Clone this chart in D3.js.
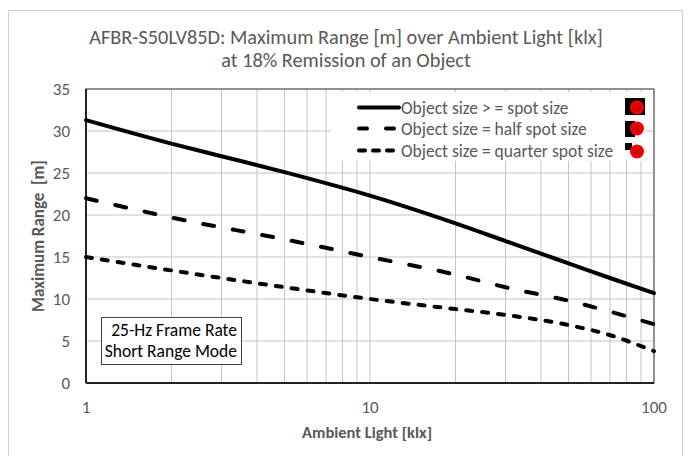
<!DOCTYPE html>
<html>
<head>
<meta charset="utf-8">
<script src="https://cdn.jsdelivr.net/npm/d3@7"></script>
<style>
  body { margin: 0; background: #fff; }
  text { font-family: Carlito, Lato, "Open Sans", sans-serif; }
</style>
</head>
<body>
<div id="chart"></div>
<script>
// ambient light [klx] and max range [m] per object size
var fullX = [1, 2, 3, 5, 10, 20, 30, 40, 50, 70, 100];
var fullY = [31.3, 28.5, 27.0, 25.1, 22.3, 19.0, 16.9, 15.4, 14.25, 12.5, 10.7];
var halfX = [1, 2, 5, 10, 20, 30, 50, 70, 100];
var halfY = [22.0, 19.7, 17.1, 15.0, 12.9, 11.4, 9.8, 8.5, 7.0];
var quarterX = [1, 2, 3, 5, 10, 20, 30, 50, 70, 90, 100];
var quarterY = [15.0, 13.4, 12.5, 11.4, 10.0, 8.8, 8.1, 6.9, 5.7, 4.4, 3.8];
var seriesNames = ["Object size > = spot size", "Object size = half spot size", "Object size = quarter spot size"];
var yTicks = [0, 5, 10, 15, 20, 25, 30, 35];
var xTickLabels = [1, 10, 100];

var width = 691, height = 456;
var margin = {top: 89, right: 37, bottom: 73, left: 86};

var svg = d3.select("#chart").append("svg")
    .attr("width", width)
    .attr("height", height);

var defs = svg.append("defs");
var grad = defs.append("radialGradient").attr("id", "dot");
grad.append("stop").attr("offset", "0%").attr("stop-color", "#c00000");
grad.append("stop").attr("offset", "100%").attr("stop-color", "#ff0000");

// outer chart frame
svg.append("rect")
    .attr("x", 8.5).attr("y", 10.5)
    .attr("width", 674).attr("height", 460)
    .attr("fill", "#fff")
    .attr("stroke", "#d0d0d0");

var x = d3.scaleLog().domain([1, 100]).range([margin.left, width - margin.right]);
var y = d3.scaleLinear().domain([0, 35]).range([height - margin.bottom, margin.top]);

// gridlines
svg.append("g").selectAll("line")
    .data(x.ticks())
    .enter().append("line")
    .attr("x1", d => x(d)).attr("x2", d => x(d))
    .attr("y1", y(0)).attr("y2", y(35))
    .attr("stroke", "#c4c4c4");

svg.append("g").selectAll("line")
    .data(yTicks)
    .enter().append("line")
    .attr("x1", x(1)).attr("x2", x(100))
    .attr("y1", d => y(d)).attr("y2", d => y(d))
    .attr("stroke", "#c4c4c4");

// plot frame
svg.append("rect")
    .attr("x", x(1)).attr("y", y(35))
    .attr("width", x(100) - x(1)).attr("height", y(0) - y(35))
    .attr("fill", "none")
    .attr("stroke", "#404040");
svg.append("line")
    .attr("x1", x(1)).attr("x2", x(100)).attr("y1", y(0)).attr("y2", y(0))
    .attr("stroke", "#000").attr("stroke-width", 1.5);
svg.append("line")
    .attr("x1", x(1)).attr("x2", x(1)).attr("y1", y(0)).attr("y2", y(35))
    .attr("stroke", "#000").attr("stroke-width", 1.5);

// tick labels
svg.append("g").selectAll("text")
    .data(yTicks)
    .enter().append("text")
    .attr("x", 70)
    .attr("y", d => y(d))
    .attr("dy", "0.35em")
    .attr("text-anchor", "end")
    .attr("fill", "#595959")
    .style("font-size", "17px")
    .text(d => d);

svg.append("g").selectAll("text")
    .data(xTickLabels)
    .enter().append("text")
    .attr("x", d => x(d))
    .attr("y", 413)
    .attr("text-anchor", "middle")
    .attr("fill", "#595959")
    .style("font-size", "17px")
    .text(d => d);

// axis titles
svg.append("text")
    .attr("x", 367).attr("y", 438)
    .attr("text-anchor", "middle")
    .attr("fill", "#595959")
    .style("font-size", "16.5px")
    .style("font-weight", "bold")
    .text("Ambient Light [klx]");

svg.append("text")
    .attr("transform", "translate(44,236) rotate(-90)")
    .attr("text-anchor", "middle")
    .attr("fill", "#595959")
    .style("font-size", "17px")
    .style("font-weight", "bold")
    .style("white-space", "pre")
    .text("Maximum Range  [m]");

// title
svg.append("text")
    .attr("x", 346).attr("y", 44)
    .attr("text-anchor", "middle")
    .attr("fill", "#595959")
    .style("font-size", "20.3px")
    .text("AFBR-S50LV85D: Maximum Range [m] over Ambient Light [klx]");
svg.append("text")
    .attr("x", 346).attr("y", 67)
    .attr("text-anchor", "middle")
    .attr("fill", "#595959")
    .style("font-size", "20.3px")
    .text("at 18% Remission of an Object");

// series
var dashes = [null, "11,19", "6,10"];
var series = [
    d3.zip(fullX, fullY),
    d3.zip(halfX, halfY),
    d3.zip(quarterX, quarterY)
];
var line = d3.line()
    .curve(d3.curveMonotoneX)
    .x(d => x(d[0]))
    .y(d => y(d[1]));

svg.append("g").selectAll("path")
    .data(series)
    .enter().append("path")
    .attr("d", line)
    .attr("fill", "none")
    .attr("stroke", "#000")
    .attr("stroke-width", 4)
    .attr("stroke-linecap", "round")
    .attr("stroke-dasharray", (d, i) => dashes[i]);

// legend
var legend = svg.append("g");
legend.append("rect")
    .attr("x", 331).attr("y", 92)
    .attr("width", 314).attr("height", 69)
    .attr("fill", "#fff");

var rowY = [107.5, 128.5, 150.5];
var sq = [[625, 98, 20, 17], [625, 121, 10, 16], [625, 143, 7, 7]];
seriesNames.forEach(function(name, i) {
    legend.append("line")
        .attr("x1", 359).attr("x2", 399)
        .attr("y1", rowY[i]).attr("y2", rowY[i])
        .attr("stroke", "#000")
        .attr("stroke-width", 4)
        .attr("stroke-linecap", "round")
        .attr("stroke-dasharray", i == 0 ? null : (i == 1 ? "8,19" : "6,8"));
    legend.append("text")
        .attr("x", 401).attr("y", rowY[i])
        .attr("dy", "0.35em")
        .attr("fill", "#595959")
        .style("font-size", "17.5px")
        .text(name);
    legend.append("rect")
        .attr("x", sq[i][0]).attr("y", sq[i][1])
        .attr("width", sq[i][2]).attr("height", sq[i][3])
        .attr("fill", "#000");
    legend.append("circle")
        .attr("cx", 637).attr("cy", rowY[i] + (i == 2 ? 1 : 0))
        .attr("r", 7)
        .attr("fill", "url(#dot)");
});

// annotation box
svg.append("rect")
    .attr("x", 101.5).attr("y", 317.5)
    .attr("width", 140).attr("height", 47)
    .attr("fill", "#fff")
    .attr("stroke", "#404040");
svg.append("text")
    .attr("x", 237).attr("y", 336)
    .attr("text-anchor", "end")
    .attr("fill", "#000")
    .style("font-size", "17.5px")
    .text("25-Hz Frame Rate");
svg.append("text")
    .attr("x", 237).attr("y", 357)
    .attr("text-anchor", "end")
    .attr("fill", "#000")
    .style("font-size", "17.5px")
    .text("Short Range Mode");
</script>
</body>
</html>
